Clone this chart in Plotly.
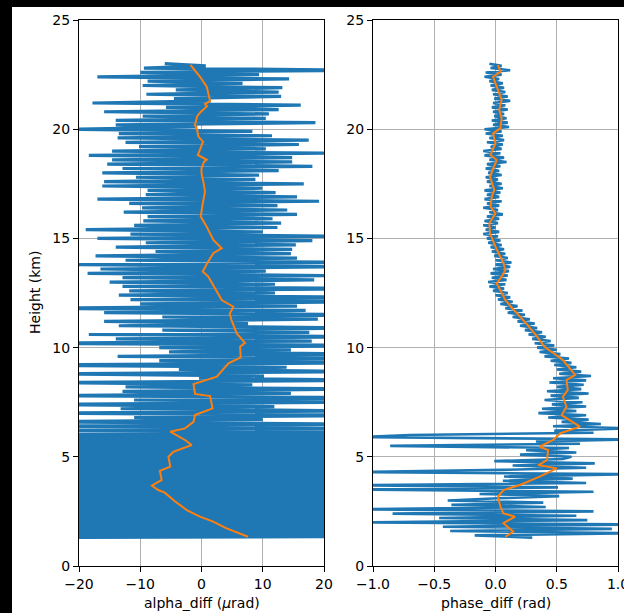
import numpy as np
import plotly.graph_objects as go

BLUE = "#1f77b4"
ORANGE = "#ff7f0e"

# ---------------- left panel: alpha_diff (urad) ----------------
alpha_upper = [
    -6,
    0.7, -9.4, 25, -10, 9.4, -17, 14.3, -8.8, 6.7, -9.6,
    13.2, -4.2, 12.6, -9, 13, -4.5, 1.5, -17.8, 16.2, -5.8,
    12.6, -15.9, 11, -9.6, 10.5, -14, 18.6, -14, -0.7, -22,
    8.3, -13.5, 11.5, -13.7, 17.5, -12.4, 15.9, -10.2, 10.5, -14.6,
    20.5, -18.4, 14.8, -14.6, 14.8, -15.4, 18.1, -12.9, 12.6, -16.2,
    9.4, -10.7, 8.8, -15.9, 16.7, -16.2, 9.9, -8.8, 12.1, -9.1,
    15.6, -17, 19.2, -11.8, 12.4, -9.7, 14, -12.7, 15.6, -8.8,
    11.6, -9.5, 13, -11, 12.4, -18.9, 10, -11.6, 22, -17,
    18.1, -9.1, 15.4, -14, 14.8, -7.5, 14.6, -17.3, 15.6, -12.4,
    24, -22, 23, -16.5, 10.5, -18.6, 20, -12.9, 18.4, -15,
    12, -12.9, 28, -11.8, 12, -13.5, 30, -11.6, 26, -10,
    15.6, -26, 17, -15.9, 30, -6.4, 19, -15.9, 7.6, -13.5,
    27, -6.4, 17.6, -18.4, 30, -14, 18, -28, 31, -6.9,
    14.6, -5.3, 27, -13.7, 29, -6.9, 25, -30, 13.9, -3.7,
    28, -26, 10.2, -0.4, 30, -27, 8.3, -12.4, 27, -12.9,
    14.6, -28, 31, -11, 26, -29, 11.9, -13.2, 28, -30,
    30, -11, 10, -27, 27, -30, 31, -28, 29, -31,
]
alpha_lower = [
    30, -32, 28, -30, 33, -29, 31, -33, 30, -28,
    32, -31, 29, -34, 30, -30, 33, -29, 31, -32,
    28, -30, 34, -31, 30, -33, 29, -30, 32, -29,
    31, -34, 30, -30, 33, -31, 29, -32, 30, -28,
    34, -30, 31, -33, 29, -30, 32, -31, 28, -30,
    33, -29, 31, -32, 30, -28, 32, -31, 29, -34,
    30, -30, 33, -29, 31, -32, 28, -30, 34, -31,
    30, -33, 29, -30, 32, -29, 31, -34, 30, -30,
    33, -31, 29, -32, 30, -28, 34, -30, 31, -33,
    29, -30, 32, -31,
]
h_alpha_upper = np.round(23.0 - 0.1 * np.arange(len(alpha_upper)), 2)
h_alpha_lower = np.round(5.95 - 0.05 * np.arange(len(alpha_lower)), 2)
alpha_h = np.concatenate([h_alpha_upper, h_alpha_lower])
alpha_v = np.array(alpha_upper + alpha_lower, dtype=float)

alpha_mean_h = [22.94, 22.4, 21.95, 21.5, 21.3, 21.15, 21.05, 20.8, 20.6, 20.2, 19.96,
                19.66, 19.43, 19.1, 18.82, 18.6, 18.5, 18.2, 17.98, 17.6, 17.14, 16.6,
                16.0, 15.53, 14.93, 14.55, 14.32, 13.9, 13.48, 13.25, 12.8, 12.33, 12.18,
                11.87, 11.55, 11.26, 10.65, 10.22, 10.04, 9.55, 9.28, 8.67, 8.33, 7.88,
                7.78, 7.22, 6.91, 6.6, 6.3, 6.15, 5.77, 5.54, 5.23, 5.0, 4.55, 4.36,
                3.94, 3.68, 3.48, 3.36, 2.95, 2.56, 2.26, 2.03, 1.72, 1.34]
alpha_mean_v = [-1.8, -0.24, 0.85, 1.28, 1.4, 0.6, 0.9, -0.1, -0.7, -1.06, -0.7,
                -0.5, 0.25, -0.2, -0.6, 0.85, 0.4, 0.0, 0.0, 0.3, 0.57, 0.2,
                -0.13, 0.85, 1.93, 3.3, 1.93, 1.0, 0.2, 1.1, 2.0, 3.0, 3.3,
                5.2, 4.6, 4.9, 5.75, 7.1, 6.3, 6.4, 4.4, 2.5, -1.3, -1.06,
                1.4, 1.8, -1.06, -1.3, -2.7, -5.1, -2.7, -1.6, -4.6, -5.4, -5.1, -6.8,
                -6.5, -8.1, -7.05, -6.0, -4.3, -2.4, -0.25, 1.9, 4.1, 7.6]

# ---------------- right panel: phase_diff (rad) ----------------
phase_v = [
    -0.05,
    0.05, -0.04, 0.12, -0.08, 0.05, -0.09, 0.03, -0.05, 0.06, -0.04,
    0.07, -0.03, 0.08, -0.02, 0.10, -0.01, 0.12, -0.02, 0.08, -0.03,
    0.10, -0.02, 0.07, -0.01, 0.09, -0.03, 0.10, -0.02, 0.11, -0.09,
    0.05, -0.08, 0.06, -0.05, 0.07, -0.07, 0.06, -0.04, 0.05, -0.10,
    0.04, -0.09, 0.07, -0.05, 0.09, -0.07, 0.04, -0.08, 0.03, -0.06,
    0.05, -0.08, 0.02, -0.07, 0.05, -0.05, 0.06, -0.09, 0.04, -0.07,
    0.03, -0.09, 0.05, -0.07, 0.03, -0.10, 0.02, -0.05, 0.06, -0.07,
    0.03, -0.09, 0.02, -0.10, 0.00, -0.08, 0.03, -0.10, 0.02, -0.07,
    0.04, -0.06, 0.05, -0.04, 0.07, -0.03, 0.08, -0.01, 0.10, 0.00,
    0.13, 0.00, 0.12, -0.02, 0.11, -0.04, 0.10, -0.03, 0.09, -0.06,
    0.08, -0.05, 0.07, -0.02, 0.10, 0.00, 0.12, 0.02, 0.14, 0.04,
    0.18, 0.08, 0.22, 0.10, 0.24, 0.14, 0.28, 0.18, 0.32, 0.20,
    0.34, 0.24, 0.38, 0.27, 0.41, 0.30, 0.45, 0.32, 0.48, 0.34,
    0.50, 0.36, 0.53, 0.40, 0.60, 0.45, 0.62, 0.48, 0.66, 0.50,
    0.70, 0.52, 0.78, 0.47, 0.74, 0.44, 0.72, 0.50, 0.70, 0.42,
    0.76, 0.45, 0.68, 0.40, 0.71, 0.46, 0.74, 0.38, 0.66, 0.35,
    0.74, 0.43, 0.76, 0.54, 0.86, 0.47, 1.1, 0.48, 0.80, -0.70,
    -1.1, 1.1, 0.33, 0.69, -0.86, 0.60, 0.25, 0.66, 0.20, 0.62,
    0.55, -0.01, 0.81, 0.14, 0.74, 0.06, -1.1, 1.1, 0.07, 0.63,
    0.06, 0.74, -1.1, 0.51, -1.1, 0.80, -0.13, 0.52, 0.02, -0.39,
    0.39, -0.36, 0.41, -1.1, 0.80, -0.84, 0.66, -0.46, 0.75, -1.1,
    1.1, -0.43, 0.95, -0.37, 1.1, -0.17, 0.30,
]
phase_h = np.round(23.0 - 0.1 * np.arange(len(phase_v)), 2)

phase_mean_h = [22.94, 22.63, 22.4, 21.95, 21.34, 20.88, 20.5, 20.05, 19.81, 19.35, 18.82,
                18.59, 18.13, 17.83, 17.22, 16.91, 16.45, 16.15, 15.69, 15.23, 14.62,
                13.86, 13.55, 13.25, 12.94, 12.49, 12.18, 11.72, 11.11, 10.5, 10.04,
                9.43, 8.75, 8.52, 8.06, 7.75, 7.29, 6.91, 6.38, 6.08, 5.77, 5.46,
                5.31, 4.85, 4.62, 4.47, 4.09, 3.71, 3.48, 3.17, 2.72, 2.41, 2.26,
                1.96, 1.57, 1.34]
phase_mean_v = [0.02, 0.04, -0.02, 0.01, 0.05, 0.03, 0.05, 0.04, -0.02, 0.0, -0.04,
                0.01, -0.02, -0.045, -0.01, -0.03, -0.04, 0.0, -0.05, -0.045, 0.0,
                0.065, 0.08, 0.05, 0.01, 0.05, 0.08, 0.15, 0.25, 0.34, 0.4,
                0.55, 0.65, 0.58, 0.59, 0.55, 0.58, 0.54, 0.69, 0.53, 0.47, 0.36,
                0.43, 0.42, 0.35, 0.5, 0.36, 0.2, 0.065, 0.02, 0.04, 0.065, 0.16,
                0.065, 0.145, 0.08]

x1_ticks = [-20, -10, 0, 10, 20]
x2_ticks = [-1.0, -0.5, 0.0, 0.5, 1.0]
x2_ticktext = ["\u22121.0", "\u22120.5", "0.0", "0.5", "1.0"]
y_ticks = [0, 5, 10, 15, 20, 25]

fig = go.Figure()
fig.add_trace(go.Scatter(x=alpha_v, y=alpha_h, mode="lines",
                         line=dict(color=BLUE, width=3.2, simplify=False),
                         xaxis="x", yaxis="y", showlegend=False, hoverinfo="skip"))
fig.add_trace(go.Scatter(x=alpha_mean_v, y=alpha_mean_h, mode="lines",
                         line=dict(color=ORANGE, width=2),
                         xaxis="x", yaxis="y", showlegend=False, hoverinfo="skip"))
fig.add_trace(go.Scatter(x=phase_v, y=phase_h, mode="lines",
                         line=dict(color=BLUE, width=2.6, simplify=False),
                         xaxis="x2", yaxis="y2", showlegend=False, hoverinfo="skip"))
fig.add_trace(go.Scatter(x=phase_mean_v, y=phase_mean_h, mode="lines",
                         line=dict(color=ORANGE, width=2),
                         xaxis="x2", yaxis="y2", showlegend=False, hoverinfo="skip"))

FONT = "DejaVu Sans"
common = dict(showline=True, linecolor="black", linewidth=1, mirror=True,
              ticks="outside", ticklen=5, tickwidth=1, tickcolor="black",
              showgrid=True, gridcolor="#b0b0b0", gridwidth=1, zeroline=False,
              automargin=False, ticklabeloverflow="allow",
              tickfont=dict(family=FONT, size=14, color="black"))

L, R, T, B = 79, 6, 20, 47
W, H = 624, 613
pw = W - L - R
ph = H - T - B

fig.update_layout(
    width=W, height=H, autosize=False,
    margin=dict(l=L, r=R, t=T, b=B, pad=0, autoexpand=False),
    paper_bgcolor="black", plot_bgcolor="white",
    xaxis=dict(domain=[0, 245 / pw], range=[-20, 20], tickvals=x1_ticks, anchor="y", **common),
    yaxis=dict(domain=[0, 1], range=[0, 25], tickvals=y_ticks, anchor="x", **common),
    xaxis2=dict(domain=[294 / pw, 1], range=[-1, 1], tickvals=x2_ticks, ticktext=x2_ticktext,
                anchor="y2", **common),
    yaxis2=dict(domain=[0, 1], range=[0, 25], tickvals=y_ticks, anchor="x2", **common),
    shapes=[dict(type="rect", xref="paper", yref="paper", layer="below",
                 x0=(12 - L) / pw, x1=(W - L) / pw, y0=(T + ph - H) / ph, y1=(T + ph - 7) / ph,
                 fillcolor="white", line=dict(width=0))],
    annotations=[
        dict(text="alpha_diff (<i>\u03bc</i>rad)", xref="paper", yref="paper",
             x=(201.5 - L) / pw, y=(T + ph - 603) / ph, showarrow=False,
             xanchor="center", yanchor="middle", font=dict(family=FONT, size=14, color="black")),
        dict(text="phase_diff (rad)", xref="paper", yref="paper",
             x=(495.5 - L) / pw, y=(T + ph - 603) / ph, showarrow=False,
             xanchor="center", yanchor="middle", font=dict(family=FONT, size=14, color="black")),
        dict(text="Height (km)", xref="paper", yref="paper", textangle=-90,
             x=(35 - L) / pw, y=0.5, showarrow=False,
             xanchor="center", yanchor="middle", font=dict(family=FONT, size=14, color="black")),
    ],
)

fig.write_html("out.html")
